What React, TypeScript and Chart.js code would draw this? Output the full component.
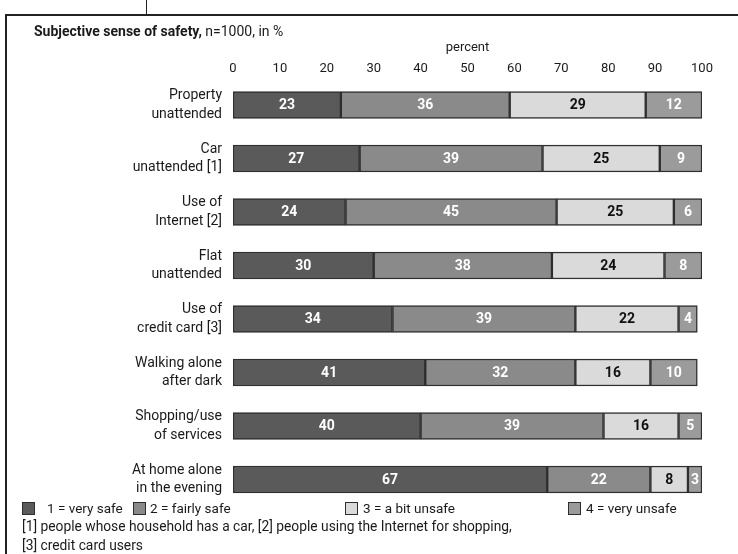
import React, { useEffect, useRef } from "react";
import { Chart, registerables } from "chart.js";

Chart.register(...registerables);

const categories: string[][] = [
  ["Property", "unattended"],
  ["Car", "unattended [1]"],
  ["Use of", "Internet [2]"],
  ["Flat", "unattended"],
  ["Use of", "credit card [3]"],
  ["Walking alone", "after dark"],
  ["Shopping/use", "of services"],
  ["At home alone", "in the evening"],
];

const verySafe = [23, 27, 24, 30, 34, 41, 40, 67];
const fairlySafe = [36, 39, 45, 38, 39, 32, 39, 22];
const bitUnsafe = [29, 25, 25, 24, 22, 16, 16, 8];
const veryUnsafe = [12, 9, 6, 8, 4, 10, 5, 3];

const seriesNames = ["1 = very safe", "2 = fairly safe", "3 = a bit unsafe", "4 = very unsafe"];
const seriesColors = ["#5a5a5a", "#8a8a8a", "#dadada", "#9b9b9b"];
const labelColors = ["#ffffff", "#ffffff", "#111111", "#ffffff"];

const FONT = "Roboto, 'Noto Sans', sans-serif";

// writes each segment's value in the middle of its bar piece
const valueLabels = {
  id: "valueLabels",
  afterDatasetsDraw(chart: any) {
    const ctx = chart.ctx;
    ctx.save();
    ctx.font = `bold 14px ${FONT}`;
    ctx.textAlign = "center";
    ctx.textBaseline = "middle";
    chart.data.datasets.forEach((ds: any, di: number) => {
      const meta = chart.getDatasetMeta(di);
      meta.data.forEach((bar: any, i: number) => {
        const v = ds.data[i];
        ctx.fillStyle = labelColors[di];
        ctx.fillText(String(v), (bar.x + bar.base) / 2, bar.y + 0.5);
      });
    });
    ctx.restore();
  },
};

export default function App() {
  const ref = useRef<HTMLCanvasElement>(null);

  useEffect(() => {
    if (!ref.current) return;
    const data = [verySafe, fairlySafe, bitUnsafe, veryUnsafe];
    const chart = new Chart(ref.current, {
      type: "bar",
      data: {
        labels: categories,
        datasets: data.map((d, i) => ({
          label: seriesNames[i],
          data: d,
          backgroundColor: seriesColors[i],
          borderColor: "#2e2e2e",
          borderWidth: 1.5,
          borderSkipped: false,
          barThickness: 27,
        })),
      },
      options: {
        indexAxis: "y",
        responsive: false,
        animation: false,
        layout: { padding: { top: 40, right: 36, bottom: 47.75, left: 0 } },
        plugins: {
          legend: { display: false },
          tooltip: { enabled: false },
        },
        scales: {
          x: {
            position: "top",
            stacked: true,
            min: 0,
            max: 100,
            grid: { display: false, drawTicks: false },
            border: { display: false },
            ticks: {
              stepSize: 10,
              padding: 1.5,
              color: "#1a1a1a",
              font: { family: FONT, size: 13 },
            },
            title: {
              display: true,
              text: "percent",
              color: "#1a1a1a",
              font: { family: FONT, size: 13 },
              padding: { top: 0, bottom: 4 },
            },
            afterFit(scale: any) {
              scale.height = 38.25;
            },
          },
          y: {
            stacked: true,
            grid: { display: false, drawTicks: false },
            border: { display: false },
            ticks: {
              padding: 11,
              color: "#1a1a1a",
              font: { family: FONT, size: 14, lineHeight: 1.3 },
            },
            afterFit(scale: any) {
              scale.width = 233;
            },
          },
        },
      },
      plugins: [valueLabels],
    } as any);
    return () => chart.destroy();
  }, []);

  const legendPos = [
    { box: 22, text: 47 },
    { box: 133, text: 150 },
    { box: 345, text: 363 },
    { box: 568, text: 586 },
  ];

  return (
    <div
      style={{
        position: "absolute",
        left: 0,
        top: 0,
        width: 738,
        height: 554,
        overflow: "hidden",
        background: "#ffffff",
        fontFamily: FONT,
        color: "#1a1a1a",
      }}
    >
      <canvas ref={ref} width={738} height={554} style={{ position: "absolute", left: 0, top: 0 }} />
      {/* frame */}
      <div style={{ position: "absolute", left: 146, top: 0, width: 1, height: 15, background: "#222" }} />
      <div style={{ position: "absolute", left: 5, top: 14, width: 733, height: 1.5, background: "#222" }} />
      <div style={{ position: "absolute", left: 5, top: 14, width: 1.5, height: 540, background: "#222" }} />
      {/* title */}
      <div style={{ position: "absolute", left: 34, top: 23, fontSize: 14, whiteSpace: "nowrap" }}>
        <span style={{ fontWeight: 700 }}>Subjective sense of safety,</span> n=1000, in %
      </div>
      {/* legend */}
      {seriesNames.map((name, i) => (
        <React.Fragment key={name}>
          <div
            style={{
              position: "absolute",
              left: legendPos[i].box,
              top: 501.5,
              width: 11,
              height: 11,
              background: seriesColors[i],
              border: "1px solid #2e2e2e",
            }}
          />
          <div
            style={{
              position: "absolute",
              left: legendPos[i].text,
              top: 500,
              fontSize: 13.5,
              lineHeight: "16px",
              whiteSpace: "nowrap",
            }}
          >
            {name}
          </div>
        </React.Fragment>
      ))}
      {/* footnotes */}
      <div
        style={{
          position: "absolute",
          left: 22,
          top: 517,
          fontSize: 13.8,
          lineHeight: "19px",
          whiteSpace: "nowrap",
        }}
      >
        [1] people whose household has a car, [2] people using the Internet for shopping,
        <br />
        [3] credit card users
      </div>
    </div>
  );
}
